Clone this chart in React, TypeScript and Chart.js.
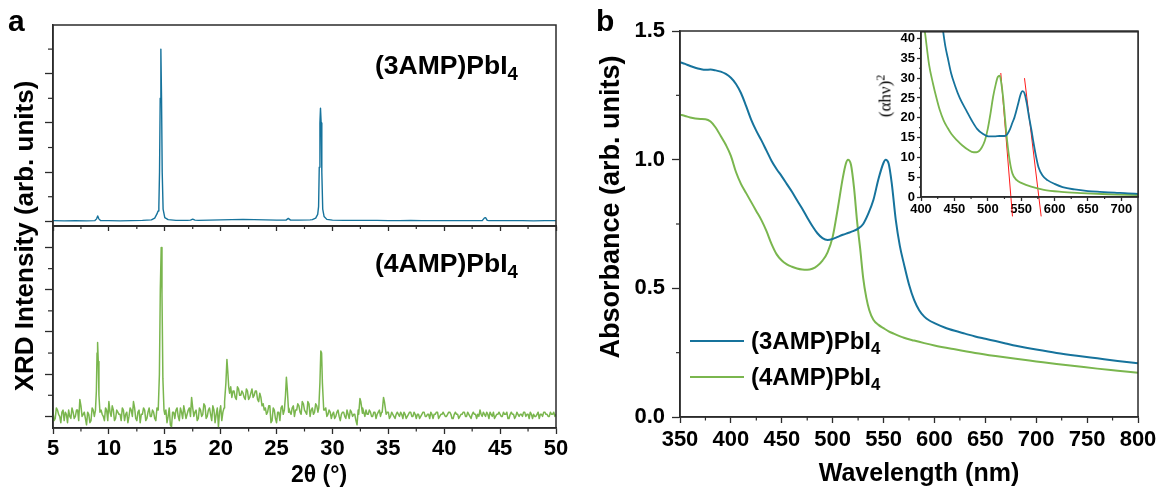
import React, { useEffect, useRef } from "react";
import { Chart, registerables } from "chart.js";

Chart.register(...registerables);

const BLUE = "#16739c";
const GREEN = "#7ab64e";
const RED = "#ff1a1a";
const AXIS = "#2b2b2b";
const FONT = "'Liberation Sans', Arial, Helvetica, sans-serif";

type Pt = [number, number];

// ---------- Panel a : XRD ----------
const XRD_TICKS = [5, 10, 15, 20, 25, 30, 35, 40, 45, 50];
const XRD_MINOR = [7.5, 12.5, 17.5, 22.5, 27.5, 32.5, 37.5, 42.5, 47.5];
const XRD_TOP_Y_MAJOR = [0, 20, 40, 60];
const XRD_TOP_Y_MINOR = [10, 30, 50, 70];
const XRD_BOT_Y_MAJOR = [0, 20, 40, 60, 80];
const XRD_BOT_Y_MINOR = [10, 30, 50, 70];

// (3AMP)PbI4 baseline, one value per degree from 5 to 50
const XRD_3AMP_BASE_START = 5;
const XRD_3AMP_BASE_STEP = 1;
const XRD_3AMP_BASE = [
  0.3, 0.2, 0.3, 0.2, 0.3, 0.3, 0.2, 0.3, 0.4, 0.5,
  0.6, 0.4, 0.4, 0.4, 0.5, 0.6, 0.7, 0.8, 0.7, 0.6,
  0.5, 0.5, 0.5, 0.6, 0.6, 0.5, 0.4, 0.4, 0.4, 0.4,
  0.3, 0.3, 0.4, 0.3, 0.3, 0.3, 0.3, 0.3, 0.3, 0.3,
  0.3, 0.3, 0.3, 0.2, 0.3, 0.3,
];
const XRD_3AMP_PEAKS: Pt[][] = [
  [[8.75, 0.3], [8.9, 1.0], [9.0, 2.2], [9.1, 1.0], [9.25, 0.3]],
  [[13.8, 0.6], [14.1, 1.3], [14.3, 3.0], [14.4, 4.2], [14.47, 6], [14.53, 20], [14.59, 50], [14.65, 70], [14.71, 50], [14.77, 20], [14.85, 5], [15.0, 1.5], [15.3, 0.7]],
  [[17.3, 0.5], [17.5, 0.9], [17.7, 0.5]],
  [[25.85, 0.5], [26.05, 1.2], [26.25, 0.5]],
  [[28.2, 0.7], [28.5, 1.3], [28.68, 2.8], [28.76, 6], [28.82, 22], [28.88, 40], [28.93, 46], [28.99, 40], [29.05, 20], [29.13, 5], [29.25, 2], [29.5, 0.8]],
  [[43.4, 0.3], [43.6, 1.4], [43.7, 1.5], [43.85, 0.4]],
];

// (4AMP)PbI4 background: values every 0.2 degree from 5.0, and every 0.2 degree from 5.1
const XRD_4AMP_NOISE_A_START = 5;
const XRD_4AMP_NOISE_B_START = 5.1;
const XRD_4AMP_NOISE_STEP = 0.2;
const XRD_4AMP_NOISE_A = [
  2, -1, 3, 0, 2, -2, 1, 3, -1, 2, 0, 3, 8, 0, 2, -4, 1, -2, 3, 1,
  2, 4, 1, -2, 3, 7, 0, 3, -1, 2, 1, 4, -2, 2, 0, 3, 7, -1, 2, -3,
  1, 3, -1, 4, 0, 2, -2, 3, 1, 5, 1, -3, 4, -5, 2, 3, 0, 4, -1, 2,
  1, 4, 9, 0, 3, -1, 3, 1, 5, 0, 4, -2, 3, 1, -5, 5, 2, 6, 8, 11,
  9, 12, 8, 13, 10, 11, 8, 12, 9, 13, 10, 12, 7, 9, 6, 4, 2, 5, -2, 3,
  -3, 2, 4, 1, 3, 2, 2, 4, 0, 3, 5, 1, 6, 2, 7, 0, 4, 2, 5, 3,
  3, 2, 4, 1, 2, 1, -1, 2, 0, 1, 2, -1, 1, 3, 0, 1, -4, 2, 1, 2,
  3, 1, 2, 0, 2, 1, 3, 2, 1, 1, 2, 0, 1, -1, 2, 0, 1, 2, -1, 1,
  2, 0, 1, 1, -1, 1, 2, 0, 1, 2, -1, 1, 2, 0, 1, 1, 0, 2, 1, -1,
  2, 1, 0, 1, 2, 0, 1, -1, 2, 1, 1, 3, 0, 1, 2, -1, 1, 2, 0, 1,
  1, 0, 1, 2, -1, 2, 1, 0, 1, 1, 0, 2, 1, -1, 1, 1, 0, 2, 1, 0,
  2, 1, 0, 1, 2, 1,
];
const XRD_4AMP_NOISE_B = [
  -2, 4, 1, -3, 3, 2, -3, 0, 4, -1, 3, -2, 5, 1, -1, 2, -3, 4, 0, 5,
  -1, 3, 0, 4, -2, 2, 5, -2, 3, 1, -2, 3, 1, -3, 4, 0, 4, -2, 3, 1,
  4, -2, 2, 0, 3, -1, 4, 0, -2, 2, 3, 0, -4, 2, -1, 4, -2, 2, 5, -1,
  3, 0, 4, 2, -2, 4, 0, 6, -1, 3, 1, 5, -3, 4, 2, -2, 4, 9, 12, 14,
  12, 9, 14, 10, 12, 9, 13, 8, 11, 9, 12, 8, 11, 5, 3, 1, 5, -3, 4, -1,
  2, -2, 5, 3, 1, 4, 1, 5, 3, 6, 2, 7, 3, 1, 6, 3, 1, 6, 2, 4,
  1, 3, 0, 3, -1, 2, 0, 3, -2, 2, 0, 3, -1, 2, 1, -2, 3, 1, 4, 0,
  1, 3, 0, 2, -1, 2, 0, 3, 1, 2, -1, 2, 0, 1, 1, 2, -1, 1, 0, 2,
  0, 2, -1, 1, 0, 2, 0, 1, -1, 1, 1, 2, -1, 1, 2, 0, 1, 2, -1, 1,
  1, -1, 1, 2, 0, 2, 0, 1, 1, -1, 0, 1, 2, 0, 1, 2, 0, -1, 1, 2,
  0, 2, 1, -1, 1, 1, -1, 2, 0, 1, 2, 0, 1, 2, -1, 0, 1, -1, 1, 2,
  1, 0, 2, 1, 0,
];
const XRD_4AMP_PEAKS: Pt[][] = [
  [[8.8, 3], [8.88, 12], [8.94, 30], [8.99, 35], [9.05, 26], [9.11, 10], [9.2, 2]],
  [[14.42, 4], [14.52, 20], [14.6, 60], [14.68, 80], [14.75, 58], [14.83, 18], [14.93, 3]],
  [[20.35, 7], [20.47, 16], [20.56, 27], [20.64, 21], [20.72, 14]],
  [[25.7, 3], [25.8, 10], [25.88, 18.5], [25.96, 13], [26.08, 2]],
  [[28.78, 4], [28.88, 16], [28.96, 31], [29.03, 30], [29.1, 16], [29.22, 3]],
  [[32.35, 1], [32.46, 8.5], [32.54, 7], [32.68, 1.5]],
  [[34.45, 2], [34.57, 9], [34.65, 7], [34.78, 2]],
];

// ---------- Panel b : absorbance ----------
const WL_TICKS = [350, 400, 450, 500, 550, 600, 650, 700, 750, 800];
const WL_MINOR = [375, 425, 475, 525, 575, 625, 675, 725, 775];
const ABS_TICKS = [0, 0.5, 1.0, 1.5];
const ABS_MINOR = [0.25, 0.75, 1.25];

const ABS_3AMP_WL = [350, 355, 360, 365, 370, 375, 380, 385, 390, 395, 400, 405, 410, 415, 420, 425, 430, 435, 440, 445, 450, 455, 460, 465, 470, 475, 480, 485, 490, 495, 500, 505, 510, 515, 520, 525, 530, 535, 540, 545, 550, 552, 555, 558, 562, 566, 570, 575, 580, 585, 590, 595, 600, 610, 620, 630, 640, 650, 660, 670, 680, 690, 700, 720, 740, 760, 780, 800];
const ABS_3AMP = [1.379, 1.372, 1.364, 1.357, 1.352, 1.349, 1.35, 1.347, 1.342, 1.333, 1.318, 1.294, 1.258, 1.208, 1.155, 1.112, 1.075, 1.035, 0.995, 0.963, 0.935, 0.905, 0.875, 0.842, 0.81, 0.775, 0.742, 0.714, 0.695, 0.688, 0.692, 0.7, 0.708, 0.715, 0.722, 0.732, 0.75, 0.79, 0.843, 0.925, 0.988, 1.0, 0.985, 0.91, 0.766, 0.665, 0.595, 0.515, 0.455, 0.415, 0.39, 0.375, 0.365, 0.348, 0.335, 0.324, 0.313, 0.304, 0.295, 0.286, 0.277, 0.269, 0.262, 0.249, 0.238, 0.228, 0.218, 0.209];

const ABS_4AMP_WL = [350, 355, 360, 365, 370, 375, 380, 385, 390, 395, 400, 405, 410, 415, 420, 425, 430, 435, 440, 445, 450, 455, 460, 465, 470, 475, 480, 485, 490, 495, 500, 505, 510, 513, 515, 518, 521, 524, 527, 530, 533, 536, 540, 545, 550, 555, 560, 570, 580, 590, 600, 620, 640, 660, 680, 700, 720, 740, 760, 780, 800];
const ABS_4AMP = [1.175, 1.17, 1.164, 1.16, 1.158, 1.157, 1.148, 1.125, 1.092, 1.058, 1.015, 0.952, 0.905, 0.87, 0.835, 0.8, 0.765, 0.722, 0.672, 0.632, 0.608, 0.593, 0.584, 0.577, 0.573, 0.572, 0.576, 0.588, 0.608, 0.64, 0.7, 0.81, 0.93, 0.985, 1.0, 0.98, 0.89, 0.76, 0.655, 0.54, 0.465, 0.415, 0.378, 0.358, 0.345, 0.333, 0.324, 0.308, 0.297, 0.287, 0.278, 0.263, 0.249, 0.237, 0.226, 0.216, 0.206, 0.197, 0.188, 0.18, 0.172];

// ---------- Inset : (alpha h nu)^2 ----------
const INSET_X_TICKS = [400, 450, 500, 550, 600, 650, 700];
const INSET_X_MINOR = [425, 475, 525, 575, 625, 675];
const INSET_Y_TICKS = [0, 5, 10, 15, 20, 25, 30, 35, 40];
const INSET_Y_MINOR = [2.5, 7.5, 12.5, 17.5, 22.5, 27.5, 32.5, 37.5];

const INSET_4AMP_WL = [402, 405.6, 412, 418, 423, 428, 434, 440, 445.6, 454, 462, 470, 479, 483, 487, 491, 495.6, 500, 504, 508, 512, 515, 518, 520.5, 523, 526, 529, 533, 537, 543, 551, 565, 584, 610, 640, 680, 725];
const INSET_4AMP = [46, 42, 33.5, 28.6, 25.1, 22, 19.3, 17.4, 15.9, 14.3, 13.0, 12.0, 11.3, 11.3, 11.6, 12.5, 14.2, 17.2, 21, 25.3, 28.5, 30.3, 30.6, 28.5, 25.1, 19.5, 14.2, 9.0, 5.9, 4.3, 3.5, 2.6, 1.8, 1.3, 1.0, 0.7, 0.5];
const INSET_3AMP_WL = [430, 433, 436.5, 440, 445, 451, 458, 468, 476, 484, 492, 501, 510, 518, 525, 529, 533, 537, 540, 545, 549, 552, 555, 558, 562, 565.5, 568, 572, 576, 582, 590, 600, 612, 630, 650, 668, 690, 710, 725];
const INSET_3AMP = [46, 42, 38, 35.2, 31.3, 28.1, 25, 21.8, 19.3, 17.2, 16.0, 15.3, 15.3, 15.4, 15.4, 15.8, 17, 18.8, 20.1, 23.2, 25.8, 26.7, 26.2, 24, 20, 16.8, 14.2, 10.5, 7.5, 5.4, 4.2, 3.3, 2.5, 1.9, 1.5, 1.3, 1.1, 0.9, 0.8];
const FIT_4AMP: Pt[] = [[519.5, 31.3], [537, -4.9]];
const FIT_3AMP: Pt[] = [[555, 30], [580, -4.9]];

// ---------- helpers ----------
function evenSeries(start: number, step: number, values: number[]): Pt[] {
  return values.map((v, i) => [Math.round((start + i * step) * 1000) / 1000, v] as Pt);
}
function withPeaks(base: Pt[], peaks: Pt[][]) {
  const pts = base.filter(([x]) => !peaks.some((g) => x >= g[0][0] && x <= g[g.length - 1][0]));
  peaks.forEach((g) => pts.push(...g));
  pts.sort((a, b) => a[0] - b[0]);
  return pts.map(([x, y]) => ({ x, y }));
}
function pair(xs: number[], ys: number[]) {
  return xs.map((x, i) => ({ x, y: ys[i] }));
}

type Box = { x: number; y: number; w: number; h: number };
type Area = { L: number; T: number; R: number; B: number };
type AxisSpec = {
  min: number;
  max: number;
  ticks: number[];
  minor: number[];
  tickLen: number;
  minorLen: number;
  labels: boolean;
  font?: number;
  pad?: number;
  fmt?: (v: number) => string;
};
type Spec = { box: Box; area: Area; datasets: any[]; x: AxisSpec; y: AxisSpec; fill?: string };

function makeChart(canvas: HTMLCanvasElement, s: Spec) {
  const { box, area } = s;
  const yW = area.L - box.x;
  const xH = box.y + box.h - area.B;
  const padT = area.T - box.y;
  const padR = box.x + box.w - area.R;
  const plugin = {
    id: "frameMinor",
    beforeDraw(chart: any) {
      if (!s.fill) return;
      const a = chart.chartArea;
      const ctx = chart.ctx;
      ctx.save();
      ctx.fillStyle = s.fill;
      ctx.fillRect(a.left, a.top, a.right - a.left, a.bottom - a.top);
      ctx.restore();
    },
    afterDraw(chart: any) {
      const a = chart.chartArea;
      const ctx = chart.ctx;
      ctx.save();
      ctx.strokeStyle = AXIS;
      ctx.lineWidth = 1.5;
      ctx.strokeRect(a.left, a.top, a.right - a.left, a.bottom - a.top);
      ctx.lineWidth = 1.2;
      const xs = chart.scales.x;
      const ys = chart.scales.y;
      for (const v of s.x.minor) {
        const p = xs.getPixelForValue(v);
        ctx.beginPath();
        ctx.moveTo(p, a.bottom);
        ctx.lineTo(p, a.bottom + s.x.minorLen);
        ctx.stroke();
      }
      for (const v of s.y.minor) {
        const p = ys.getPixelForValue(v);
        ctx.beginPath();
        ctx.moveTo(a.left, p);
        ctx.lineTo(a.left - s.y.minorLen, p);
        ctx.stroke();
      }
      ctx.restore();
    },
  };
  const axis = (a: AxisSpec, horiz: boolean) => ({
    type: "linear",
    min: a.min,
    max: a.max,
    afterBuildTicks: (sc: any) => {
      sc.ticks = a.ticks.map((v) => ({ value: v }));
    },
    afterFit: (sc: any) => {
      if (horiz) sc.height = xH;
      else sc.width = yW;
    },
    grid: {
      display: true,
      drawOnChartArea: false,
      drawTicks: true,
      tickLength: a.tickLen,
      tickColor: AXIS,
      tickWidth: 1.3,
    },
    border: { display: true, color: AXIS, width: 1.5 },
    ticks: {
      display: a.labels,
      color: "#000",
      font: { family: FONT, size: a.font || 12, weight: "bold" },
      padding: a.pad || 0,
      autoSkip: false,
      maxRotation: 0,
      minRotation: 0,
      callback: (v: any) => (a.fmt ? a.fmt(Number(v)) : String(v)),
    },
  });
  return new Chart(canvas, {
    type: "line",
    data: { datasets: s.datasets },
    options: {
      responsive: false,
      maintainAspectRatio: false,
      animation: false,
      events: [],
      layout: { padding: { left: 0, top: padT, right: padR, bottom: 0 } },
      plugins: { legend: { display: false }, tooltip: { enabled: false } },
      elements: { point: { radius: 0 }, line: { borderJoinStyle: "round" } },
      scales: { x: axis(s.x, true) as any, y: axis(s.y, false) as any },
    },
    plugins: [plugin],
  } as any);
}

const BOX_A_TOP: Box = { x: 0, y: 0, w: 580, h: 245 };
const AREA_A_TOP: Area = { L: 53, T: 25, R: 556, B: 226 };
const BOX_A_BOT: Box = { x: 0, y: 220, w: 580, h: 273 };
const AREA_A_BOT: Area = { L: 53, T: 226, R: 556, B: 428 };
const BOX_B: Box = { x: 590, y: 0, w: 572, h: 493 };
const AREA_B: Area = { L: 680, T: 31, R: 1138, B: 417 };
const BOX_IN: Box = { x: 866, y: 22, w: 296, h: 206 };
const AREA_IN: Area = { L: 921, T: 31, R: 1138, B: 197 };

const boxStyle = (b: Box): React.CSSProperties => ({
  position: "absolute",
  left: b.x,
  top: b.y,
  width: b.w,
  height: b.h,
});

const Sub = ({ c }: { c: string }) => (
  <span style={{ fontSize: "0.7em", position: "relative", top: "0.3em" }}>{c}</span>
);

const txt = (extra: React.CSSProperties): React.CSSProperties => ({
  position: "absolute",
  fontFamily: FONT,
  fontWeight: "bold",
  whiteSpace: "nowrap",
  lineHeight: 1,
  color: "#000",
  ...extra,
});

export default function App() {
  const rTop = useRef<HTMLCanvasElement>(null);
  const rBot = useRef<HTMLCanvasElement>(null);
  const rB = useRef<HTMLCanvasElement>(null);
  const rIn = useRef<HTMLCanvasElement>(null);

  useEffect(() => {
    const xrdLine = (data: any[], color: string, w: number) => ({
      data,
      borderColor: color,
      borderWidth: w,
      pointRadius: 0,
      fill: false,
      tension: 0,
    });
    const smooth = (data: any[], color: string, w: number) => ({
      data,
      borderColor: color,
      borderWidth: w,
      pointRadius: 0,
      fill: false,
      cubicInterpolationMode: "monotone",
    });

    const noise4 = [
      ...evenSeries(XRD_4AMP_NOISE_A_START, XRD_4AMP_NOISE_STEP, XRD_4AMP_NOISE_A),
      ...evenSeries(XRD_4AMP_NOISE_B_START, XRD_4AMP_NOISE_STEP, XRD_4AMP_NOISE_B),
    ];

    const charts: Chart[] = [];
    charts.push(
      makeChart(rBot.current!, {
        box: BOX_A_BOT,
        area: AREA_A_BOT,
        datasets: [xrdLine(withPeaks(noise4, XRD_4AMP_PEAKS), GREEN, 1.5)],
        x: { min: 5, max: 50, ticks: XRD_TICKS, minor: XRD_MINOR, tickLen: 6, minorLen: 3.5, labels: true, font: 22, pad: 2 },
        y: { min: -5.5, max: 90.2, ticks: XRD_BOT_Y_MAJOR, minor: XRD_BOT_Y_MINOR, tickLen: 8, minorLen: 5, labels: false },
      })
    );
    charts.push(
      makeChart(rTop.current!, {
        box: BOX_A_TOP,
        area: AREA_A_TOP,
        datasets: [
          xrdLine(withPeaks(evenSeries(XRD_3AMP_BASE_START, XRD_3AMP_BASE_STEP, XRD_3AMP_BASE), XRD_3AMP_PEAKS), BLUE, 1.4),
        ],
        x: { min: 5, max: 50, ticks: XRD_TICKS, minor: XRD_MINOR, tickLen: 5, minorLen: 3, labels: false },
        y: { min: -1.9, max: 79.8, ticks: XRD_TOP_Y_MAJOR, minor: XRD_TOP_Y_MINOR, tickLen: 8, minorLen: 5, labels: false },
      })
    );
    charts.push(
      makeChart(rB.current!, {
        box: BOX_B,
        area: AREA_B,
        datasets: [smooth(pair(ABS_3AMP_WL, ABS_3AMP), BLUE, 2), smooth(pair(ABS_4AMP_WL, ABS_4AMP), GREEN, 2)],
        x: { min: 350, max: 800, ticks: WL_TICKS, minor: WL_MINOR, tickLen: 6, minorLen: 3.5, labels: true, font: 22, pad: 4 },
        y: { min: 0, max: 1.5, ticks: ABS_TICKS, minor: ABS_MINOR, tickLen: 8, minorLen: 4, labels: true, font: 22, pad: 7, fmt: (v) => v.toFixed(1) },
      })
    );
    charts.push(
      makeChart(rIn.current!, {
        box: BOX_IN,
        area: AREA_IN,
        fill: "#ffffff",
        datasets: [
          smooth(pair(INSET_3AMP_WL, INSET_3AMP), BLUE, 1.8),
          smooth(pair(INSET_4AMP_WL, INSET_4AMP), GREEN, 1.8),
          { data: FIT_4AMP.map(([x, y]) => ({ x, y })), borderColor: RED, borderWidth: 1, pointRadius: 0, fill: false, clip: false },
          { data: FIT_3AMP.map(([x, y]) => ({ x, y })), borderColor: RED, borderWidth: 1, pointRadius: 0, fill: false, clip: false },
        ],
        x: { min: 400, max: 725, ticks: INSET_X_TICKS, minor: INSET_X_MINOR, tickLen: 4, minorLen: 2, labels: true, font: 13, pad: 1 },
        y: { min: 0, max: 41.7, ticks: INSET_Y_TICKS, minor: INSET_Y_MINOR, tickLen: 4, minorLen: 2, labels: true, font: 13, pad: 2 },
      })
    );
    return () => charts.forEach((c) => c.destroy());
  }, []);

  return (
    <div
      style={{
        position: "fixed",
        left: 0,
        top: 0,
        width: 1162,
        height: 493,
        background: "#fff",
        overflow: "hidden",
      }}
    >
      <canvas ref={rBot} width={BOX_A_BOT.w} height={BOX_A_BOT.h} style={boxStyle(BOX_A_BOT)} />
      <canvas ref={rTop} width={BOX_A_TOP.w} height={BOX_A_TOP.h} style={boxStyle(BOX_A_TOP)} />
      <canvas ref={rB} width={BOX_B.w} height={BOX_B.h} style={boxStyle(BOX_B)} />
      <canvas ref={rIn} width={BOX_IN.w} height={BOX_IN.h} style={boxStyle(BOX_IN)} />

      <div style={txt({ left: 8, top: 6, fontSize: 30 })}>a</div>
      <div style={txt({ left: 596, top: 6, fontSize: 30 })}>b</div>

      <div style={txt({ left: 24, top: 236, fontSize: 26, transform: "translate(-50%,-50%) rotate(-90deg)" })}>
        XRD Intensity (arb. units)
      </div>
      <div style={txt({ left: 319, top: 474, fontSize: 23, transform: "translate(-50%,-50%)" })}>2θ (°)</div>

      <div style={txt({ left: 375, top: 65, fontSize: 26.5, transform: "translateY(-50%)" })}>
        (3AMP)PbI<Sub c="4" />
      </div>
      <div style={txt({ left: 375, top: 263, fontSize: 26.5, transform: "translateY(-50%)" })}>
        (4AMP)PbI<Sub c="4" />
      </div>

      <div style={txt({ left: 610, top: 207, fontSize: 27, transform: "translate(-50%,-50%) rotate(-90deg)" })}>
        Absorbance (arb. units)
      </div>
      <div style={txt({ left: 919, top: 472, fontSize: 25, transform: "translate(-50%,-50%)" })}>Wavelength (nm)</div>

      <div style={{ position: "absolute", left: 690, top: 340, width: 54, height: 2, background: BLUE }} />
      <div style={txt({ left: 751, top: 341, fontSize: 24, transform: "translateY(-50%)" })}>
        (3AMP)PbI<Sub c="4" />
      </div>
      <div style={{ position: "absolute", left: 690, top: 376, width: 54, height: 2, background: GREEN }} />
      <div style={txt({ left: 751, top: 377, fontSize: 24, transform: "translateY(-50%)" })}>
        (4AMP)PbI<Sub c="4" />
      </div>

      <div
        style={{
          position: "absolute",
          left: 885,
          top: 96,
          fontFamily: "'Liberation Serif', 'Times New Roman', serif",
          fontSize: 17,
          lineHeight: 1,
          whiteSpace: "nowrap",
          color: "#000",
          transform: "translate(-50%,-50%) rotate(-90deg)",
        }}
      >
        (αhν)<span style={{ fontSize: "0.7em", position: "relative", top: "-0.5em" }}>2</span>
      </div>
    </div>
  );
}
